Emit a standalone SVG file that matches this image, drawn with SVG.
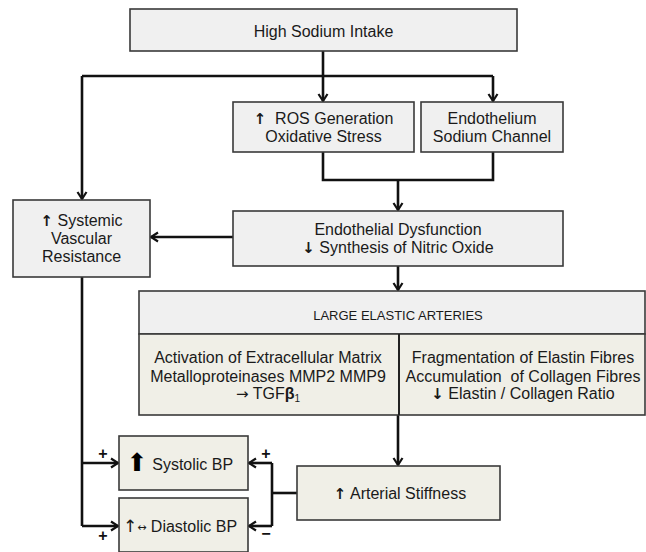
<svg xmlns="http://www.w3.org/2000/svg" width="646" height="552" viewBox="0 0 646 552">
<style>
.box{fill:#f0f0f0;stroke:#3a3a3a;stroke-width:1.6}
.boxb{fill:#f0efe7;stroke:#3a3a3a;stroke-width:1.6}
.t{font-family:"Liberation Sans",Arial,sans-serif;font-size:16px;fill:#1a1a1a;text-anchor:middle}
.h{font-family:"Liberation Sans",Arial,sans-serif;font-size:13px;fill:#1a1a1a;text-anchor:middle}
.s{font-family:"Liberation Sans",Arial,sans-serif;font-size:16px;font-weight:bold;fill:#111;text-anchor:middle}
.ln{fill:none;stroke:#111;stroke-width:2.6}
.ar{marker-end:url(#ah)}
.b{font-weight:bold}
.g{font-family:"DejaVu Sans",sans-serif;font-weight:bold}
</style>
<defs>
<marker id="ah" markerUnits="userSpaceOnUse" markerWidth="12" markerHeight="12" refX="9" refY="6" orient="auto">
<path d="M2,1.5 L9,6 L2,10.5" fill="none" stroke="#111" stroke-width="2.2"/>
</marker>
</defs>
<rect width="646" height="552" fill="#ffffff"/>

<g id="connectors">
<path class="ln" d="M323,51 V76"/>
<path class="ln" d="M82,76 H493"/>
<path class="ln ar" d="M323,76 V101"/>
<path class="ln ar" d="M493,76 V101"/>
<path class="ln ar" d="M82,76 V199"/>
<path class="ln" d="M323,152 V180 H493 V152"/>
<path class="ln ar" d="M398,180 V210"/>
<path class="ln ar" d="M233,237 H151"/>
<path class="ln ar" d="M398,266 V290"/>
<path class="ln ar" d="M398,415 V465"/>
<path class="ln" d="M82,277 V526"/>
<path class="ln ar" d="M82,463 H118"/>
<path class="ln ar" d="M82,526 H118"/>
<path class="ln" d="M297,493 H272"/>
<path class="ln" d="M272,463 V526"/>
<path class="ln ar" d="M272,463 H249"/>
<path class="ln ar" d="M272,526 H249"/>
<text class="s" x="103" y="459">+</text>
<text class="s" x="103" y="541">+</text>
<text class="s" x="266" y="459">+</text>
<text class="s" x="266" y="539">−</text>
</g>

<g id="high-sodium">
<rect class="box" x="130" y="9" width="387" height="42"/>
<text class="t" x="323.5" y="37">High Sodium Intake</text>
</g>

<g id="ros">
<rect class="box" x="233" y="102" width="181" height="50"/>
<text class="t" x="323.5" y="124" xml:space="preserve"><tspan class="g" font-size="15">↑</tspan>  ROS Generation</text>
<text class="t" x="323.5" y="142">Oxidative Stress</text>
</g>

<g id="endothelium-channel">
<rect class="box" x="421" y="102" width="142" height="50"/>
<text class="t" x="492" y="124">Endothelium</text>
<text class="t" x="492" y="142">Sodium Channel</text>
</g>

<g id="endothelial-dysfunction">
<rect class="box" x="233" y="211" width="330" height="55"/>
<text class="t" x="398" y="235">Endothelial Dysfunction</text>
<text class="t" x="398" y="253"><tspan class="g" font-size="15">↓</tspan> Synthesis of Nitric Oxide</text>
</g>

<g id="svr">
<rect class="box" x="13" y="200" width="137" height="77"/>
<text class="t" x="81.5" y="226"><tspan class="g" font-size="15">↑</tspan> Systemic</text>
<text class="t" x="81.5" y="244">Vascular</text>
<text class="t" x="81.5" y="262">Resistance</text>
</g>

<g id="large-elastic-arteries">
<rect class="box" x="139" y="291" width="506" height="43"/>
<rect class="boxb" x="139" y="334" width="506" height="81"/>
<line x1="399" y1="334" x2="399" y2="415" stroke="#222" stroke-width="2"/>
<text class="h" x="398" y="320">LARGE ELASTIC ARTERIES</text>
<text class="t" x="268" y="363">Activation of Extracellular Matrix</text>
<text class="t" x="268" y="382">Metalloproteinases MMP2 MMP9</text>
<text class="t" x="268" y="399"><tspan font-family="DejaVu Sans" font-size="15">→</tspan> TGF<tspan class="b">β</tspan><tspan font-size="10" dy="3">1</tspan></text>
<text class="t" x="523" y="363">Fragmentation of Elastin Fibres</text>
<text class="t" x="523" y="382" xml:space="preserve">Accumulation  of Collagen Fibres</text>
<text class="t" x="523" y="399"><tspan class="g" font-size="15">↓</tspan> Elastin / Collagen Ratio</text>
</g>

<g id="systolic">
<rect class="boxb" x="119" y="436" width="129" height="54"/>
<text class="t" x="180" y="470"><tspan font-family="DejaVu Sans" font-size="25" fill="#000" dy="1">⬆</tspan><tspan dy="-1"> Systolic BP</tspan></text>
</g>

<g id="diastolic">
<rect class="boxb" x="119" y="498" width="129" height="54"/>
<text class="t" x="180" y="532"><tspan font-family="DejaVu Sans" font-size="17">↑</tspan><tspan font-family="DejaVu Sans" font-size="11" dy="-1">↔</tspan><tspan dy="1"> Diastolic BP</tspan></text>
</g>

<g id="arterial-stiffness">
<rect class="boxb" x="297" y="466" width="203" height="54"/>
<text class="t" x="400" y="499"><tspan class="g" font-size="15">↑</tspan> Arterial Stiffness</text>
</g>
</svg>
